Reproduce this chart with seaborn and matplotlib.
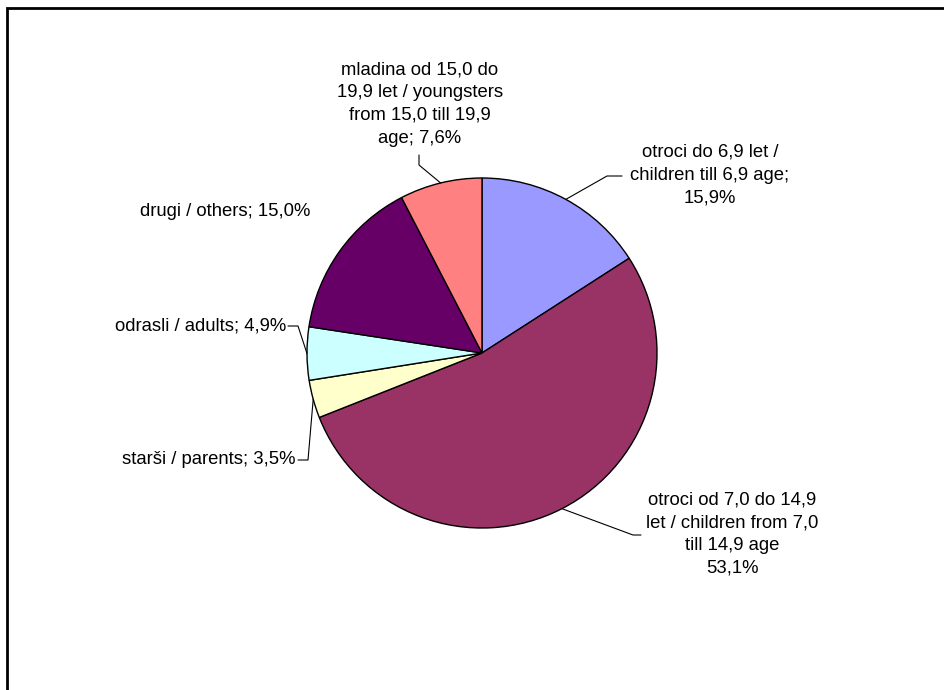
import numpy as np
import seaborn as sns
import matplotlib.pyplot as plt
from matplotlib.patches import Rectangle

# podatki
names = [
    "otroci do 6,9 let /\nchildren till 6,9 age;",
    "otroci od 7,0 do 14,9\nlet / children from 7,0\ntill 14,9 age",
    "starši / parents;",
    "odrasli / adults;",
    "drugi / others;",
    "mladina od 15,0 do\n19,9 let / youngsters\nfrom 15,0 till 19,9\nage;",
]
shares = [15.9, 53.1, 3.5, 4.9, 15.0, 7.6]
seps = ["\n", "\n", " ", " ", " ", " "]
colors = ["#9999FF", "#993366", "#FFFFCC", "#CCFFFF", "#660066", "#FF8080"]

sns.set_theme(style="white")
plt.rcParams['font.family'] = ['Liberation Sans', 'DejaVu Sans']

W, H = 944, 690
cx, cy, R = 482, 353, 175  # centre in pixels

fig = plt.figure(figsize=(W / 100, H / 100), dpi=100)
ax = fig.add_axes([0, 0, 1, 1])

ax.pie(shares, colors=colors, startangle=90, counterclock=False,
       wedgeprops=dict(edgecolor='black', linewidth=1.0))

# pie() sets its own limits, so fix them afterwards
ax.set_xlim(-cx / R, (W - cx) / R)
ax.set_ylim(-(H - cy) / R, cy / R)
ax.set_aspect('equal')
ax.axis('off')


def px(x, y):
    return (x - cx) / R, (cy - y) / R


# label layout: text anchor (pixels), alignment, leader elbow points
layout = [
    ((710, 175), 'center', [(607, 176), (622, 176)]),
    ((732, 534), 'center', [(633, 535), (641, 535)]),
    ((296, 460), 'right', [(308, 460), (298, 460)]),
    ((286, 326), 'right', [(298, 326), (288, 326)]),
    ((310, 212), 'right', []),
    ((420, 104), 'center', [(419, 165), (419, 155)]),
]

total = sum(shares)
cum = np.cumsum([0] + shares[:-1])
for i, (name, val) in enumerate(zip(names, shares)):
    mid = (cum[i] + val / 2) / total * 2 * np.pi
    ex, ey = np.sin(mid), np.cos(mid)
    (tx, ty), ha, elbow = layout[i]
    if elbow:
        pts = [(ex, ey)] + [px(*p) for p in elbow]
        ax.plot([p[0] for p in pts], [p[1] for p in pts], color='black', lw=0.8)
    label = name + seps[i] + f"{val:.1f}%".replace('.', ',')
    ax.text(*px(tx, ty), label, ha=ha, va='center', fontsize=13.3,
            multialignment='center', linespacing=1.45, color='black')

fig.patches.append(Rectangle((7 / W, -0.05), 1.1, 1 - 8 / H + 0.05,
                             transform=fig.transFigure, fill=False,
                             edgecolor='black', linewidth=2))

fig.savefig('out.png', dpi=100, facecolor='white')
